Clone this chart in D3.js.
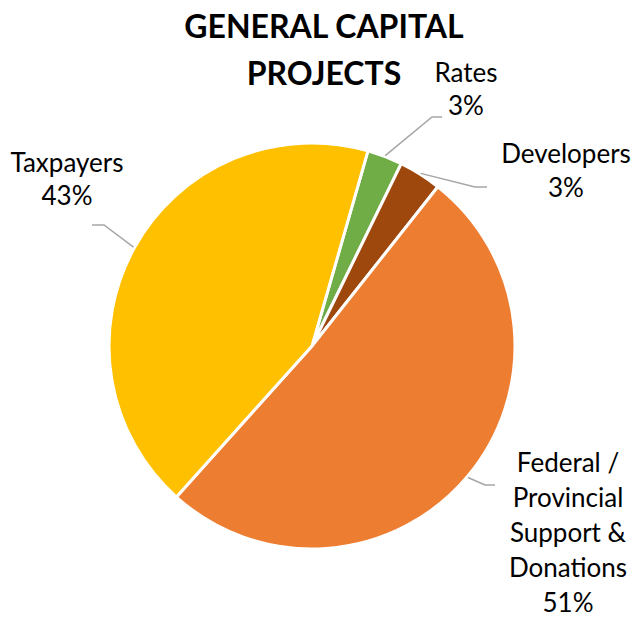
<!DOCTYPE html>
<html>
<head>
<meta charset="utf-8">
<script src="https://cdn.jsdelivr.net/npm/d3@7"></script>
<style>
  html, body { margin: 0; padding: 0; background: #fff; }
  svg { display: block; }
  text { font-family: Lato, "Open Sans", sans-serif; }
</style>
</head>
<body>
<svg id="chart" width="634" height="621"></svg>
<script>
// Funding sources for general capital projects (share of total, %)
const categories = ["Rates", "Developers", "Federal / Provincial Support & Donations", "Taxpayers"];
const values = [2.8, 3.4, 51.0, 42.8];
const colors = ["#70AD47", "#9E480E", "#ED7D31", "#FFC000"];
const labelLines = [["Rates"], ["Developers"], ["Federal /", "Provincial", "Support &", "Donations"], ["Taxpayers"]];

const W = 634, H = 621;
const cx = 312, cy = 346, R = 203;
const startDeg = 16;

const svg = d3.select("#chart");

// Title
[["GENERAL CAPITAL", 38], ["PROJECTS", 85]].forEach(([s, y]) => {
  svg.append("text")
    .attr("x", 324).attr("y", y)
    .attr("text-anchor", "middle")
    .attr("font-size", 32).attr("font-weight", 700)
    .attr("fill", "#000")
    .text(s);
});

const rad = d => d * Math.PI / 180;
const pie = d3.pie().sort(null).value(d => d)
  .startAngle(rad(startDeg)).endAngle(rad(startDeg + 360));
const arcs = pie(values);
const arc = d3.arc().innerRadius(0).outerRadius(R);

const g = svg.append("g").attr("transform", `translate(${cx},${cy})`);
g.selectAll("path.slice")
  .data(arcs)
  .join("path")
  .attr("class", "slice")
  .attr("d", arc)
  .attr("fill", (d, i) => colors[i])
  .attr("stroke", "#fff")
  .attr("stroke-width", 3)
  .attr("stroke-linejoin", "round");

// Data label placement (label centre x, first baseline, line step) and leader elbows
const labelLayout = [
  { x: 466, y: 82, step: 33, elbow: [[432, 117], [442, 117]] },
  { x: 566, y: 163, step: 34, elbow: [[475, 187], [487, 187]] },
  { x: 568, y: 472, step: 35, elbow: [[485, 485], [495, 485]] },
  { x: 67, y: 172, step: 33, elbow: [[104, 225], [92, 225]] }
];

const total = d3.sum(values);

arcs.forEach((a, i) => {
  const L = labelLayout[i];
  // leader line starts just outside the rim at the slice's mid angle
  const ang = (a.startAngle + a.endAngle) / 2;
  const sx = cx + Math.sin(ang) * (R + 1);
  const sy = cy - Math.cos(ang) * (R + 1);
  const pts = [[sx, sy], ...L.elbow];
  svg.append("path")
    .attr("d", d3.line()(pts))
    .attr("fill", "none")
    .attr("stroke", "#A6A6A6")
    .attr("stroke-width", 1.5);

  const lines = labelLines[i].concat([Math.round(values[i] / total * 100) + "%"]);
  const t = svg.append("text")
    .attr("text-anchor", "middle")
    .attr("font-size", 26)
    .attr("fill", "#000");
  lines.forEach((s, k) => {
    t.append("tspan")
      .attr("x", L.x)
      .attr("y", L.y + k * L.step)
      .text(s);
  });
});
</script>
</body>
</html>
